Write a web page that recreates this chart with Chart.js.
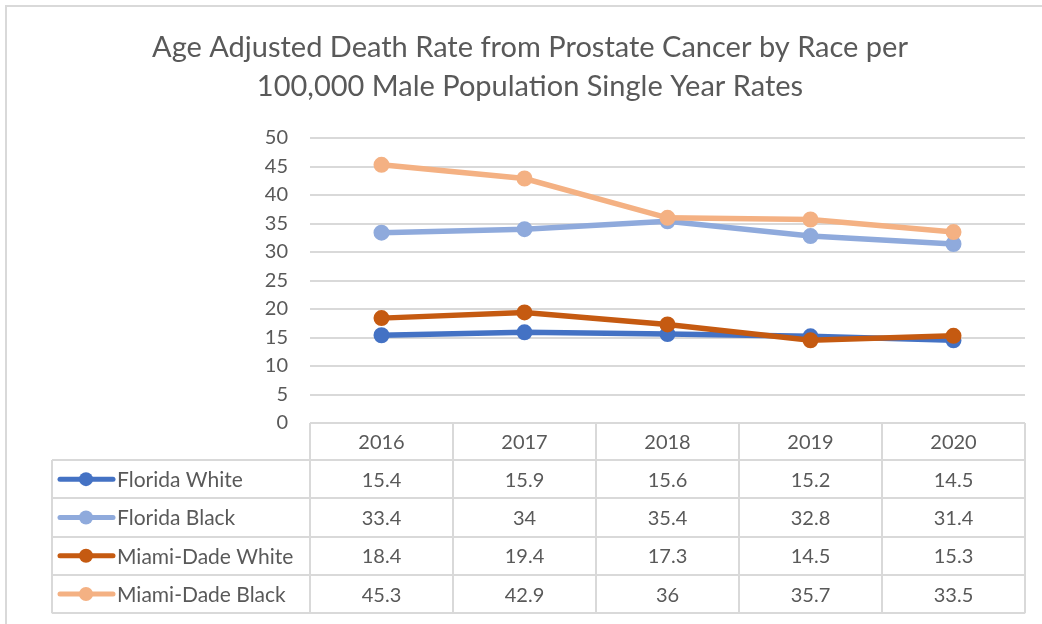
<!DOCTYPE html>
<html>
<head>
<meta charset="utf-8">
<script src="https://cdn.jsdelivr.net/npm/chart.js@4/dist/chart.umd.min.js"></script>
<style>
    body { margin: 0; background: #fff; }
    #cadre { position: absolute; left: 5px; top: 5px; width: 1100px; height: 700px; border-top: 2px solid #d9d9d9; border-left: 2px solid #d9d9d9; }
    #zone { position: absolute; left: 0; top: 0; width: 1042px; height: 624px; }
</style>
</head>
<body>
<div id="cadre"></div>
<div id="zone"><canvas id="GraphiqueProstate" width="1042" height="624"></canvas></div>
<script>
var annees = ['2016', '2017', '2018', '2019', '2020'];
var floridaWhite = [15.4, 15.9, 15.6, 15.2, 14.5];
var floridaBlack = [33.4, 34, 35.4, 32.8, 31.4];
var miamiWhite = [18.4, 19.4, 17.3, 14.5, 15.3];
var miamiBlack = [45.3, 42.9, 36, 35.7, 33.5];
var nomsSeries = ['Florida White', 'Florida Black', 'Miami-Dade White', 'Miami-Dade Black'];
var couleurs = ['#4472C4', '#8FAADC', '#C55A11', '#F4B183'];

var police = 'Lato, "Open Sans", sans-serif';
var gris = '#595959';
var grille = '#d9d9d9';

function GetDatasets() {
    var valeurs = [floridaWhite, floridaBlack, miamiWhite, miamiBlack];
    var datasets = [];
    var i = 0;

    while (i < valeurs.length) {
        datasets.push({
            label: nomsSeries[i],
            data: valeurs[i],
            borderColor: couleurs[i],
            backgroundColor: couleurs[i],
            pointBackgroundColor: couleurs[i],
            pointBorderColor: couleurs[i],
            borderWidth: 5.5,
            pointRadius: 7,
            pointBorderWidth: 2,
            order: valeurs.length - i
        });
        i++;
    }
    return datasets;
}

// table de donnees sous le graphique
var tableDonnees = {
    id: 'tableDonnees',
    afterDraw: function (chart) {
        var ctx = chart.ctx;
        var x = chart.scales.x;
        var aire = chart.chartArea;
        var largeurCol = (x.right - x.left) / annees.length;
        var hautEntete = 37;
        var hautLigne = 38.3;
        var gauche = 52;
        var haut = aire.bottom;
        var bas = haut + hautEntete + hautLigne * nomsSeries.length;
        var i, j;

        ctx.save();
        ctx.strokeStyle = grille;
        ctx.lineWidth = 2;
        ctx.beginPath();
        // lignes horizontales
        ctx.moveTo(x.left, haut);
        ctx.lineTo(x.right, haut);
        for (i = 0; i <= nomsSeries.length; i++) {
            var yl = Math.round(haut + hautEntete + hautLigne * i);
            ctx.moveTo(gauche, yl);
            ctx.lineTo(x.right, yl);
        }
        // lignes verticales
        ctx.moveTo(gauche, haut + hautEntete);
        ctx.lineTo(gauche, bas);
        for (j = 0; j <= annees.length; j++) {
            var xl = Math.round(x.left + largeurCol * j);
            ctx.moveTo(xl, haut);
            ctx.lineTo(xl, bas);
        }
        ctx.stroke();

        ctx.fillStyle = gris;
        ctx.font = '20px ' + police;
        ctx.textBaseline = 'middle';
        ctx.textAlign = 'center';
        for (j = 0; j < annees.length; j++) {
            ctx.fillText(annees[j], x.getPixelForValue(j), haut + hautEntete / 2 + 1);
        }

        for (i = 0; i < chart.data.datasets.length; i++) {
            var ds = chart.data.datasets[i];
            var yc = haut + hautEntete + hautLigne * i + hautLigne / 2;

            ctx.strokeStyle = ds.borderColor;
            ctx.lineWidth = 5;
            ctx.lineCap = 'round';
            ctx.beginPath();
            ctx.moveTo(60, yc);
            ctx.lineTo(113, yc);
            ctx.stroke();
            ctx.fillStyle = ds.borderColor;
            ctx.beginPath();
            ctx.arc(86, yc, 7, 0, Math.PI * 2);
            ctx.fill();

            ctx.fillStyle = gris;
            ctx.font = '21px ' + police;
            ctx.textAlign = 'left';
            ctx.fillText(ds.label, 117, yc + 1);
            ctx.font = '20px ' + police;
            ctx.textAlign = 'center';
            for (j = 0; j < ds.data.length; j++) {
                ctx.fillText(String(ds.data[j]), x.getPixelForValue(j), yc + 1);
            }
        }
        ctx.restore();
    }
};

var ctx = document.getElementById('GraphiqueProstate').getContext('2d');

var graphique = new Chart(ctx, {
    type: 'line',
    data: {
        labels: annees,
        datasets: GetDatasets()
    },
    plugins: [tableDonnees],
    options: {
        responsive: false,
        animation: false,
        layout: {
            padding: { left: 35, right: 17, top: 0, bottom: 0 }
        },
        plugins: {
            legend: { display: false },
            tooltip: { enabled: false },
            title: {
                display: true,
                text: ['Age Adjusted Death Rate from Prostate Cancer by Race per', '100,000 Male Population Single Year Rates'],
                color: gris,
                font: { family: police, size: 29, weight: 'normal', lineHeight: 1.345 },
                padding: { top: 28, bottom: 32 }
            }
        },
        scales: {
            x: {
                offset: true,
                grid: { display: false },
                border: { display: false },
                ticks: { display: false },
                afterFit: function (scale) {
                    scale.height = 201;
                }
            },
            y: {
                min: 0,
                max: 50,
                grid: { color: grille, lineWidth: 2, drawTicks: false },
                border: { display: false },
                ticks: {
                    stepSize: 5,
                    color: gris,
                    padding: 22,
                    font: { family: police, size: 20 }
                },
                afterFit: function (scale) {
                    scale.width = 275;
                }
            }
        }
    }
});
</script>
</body>
</html>
